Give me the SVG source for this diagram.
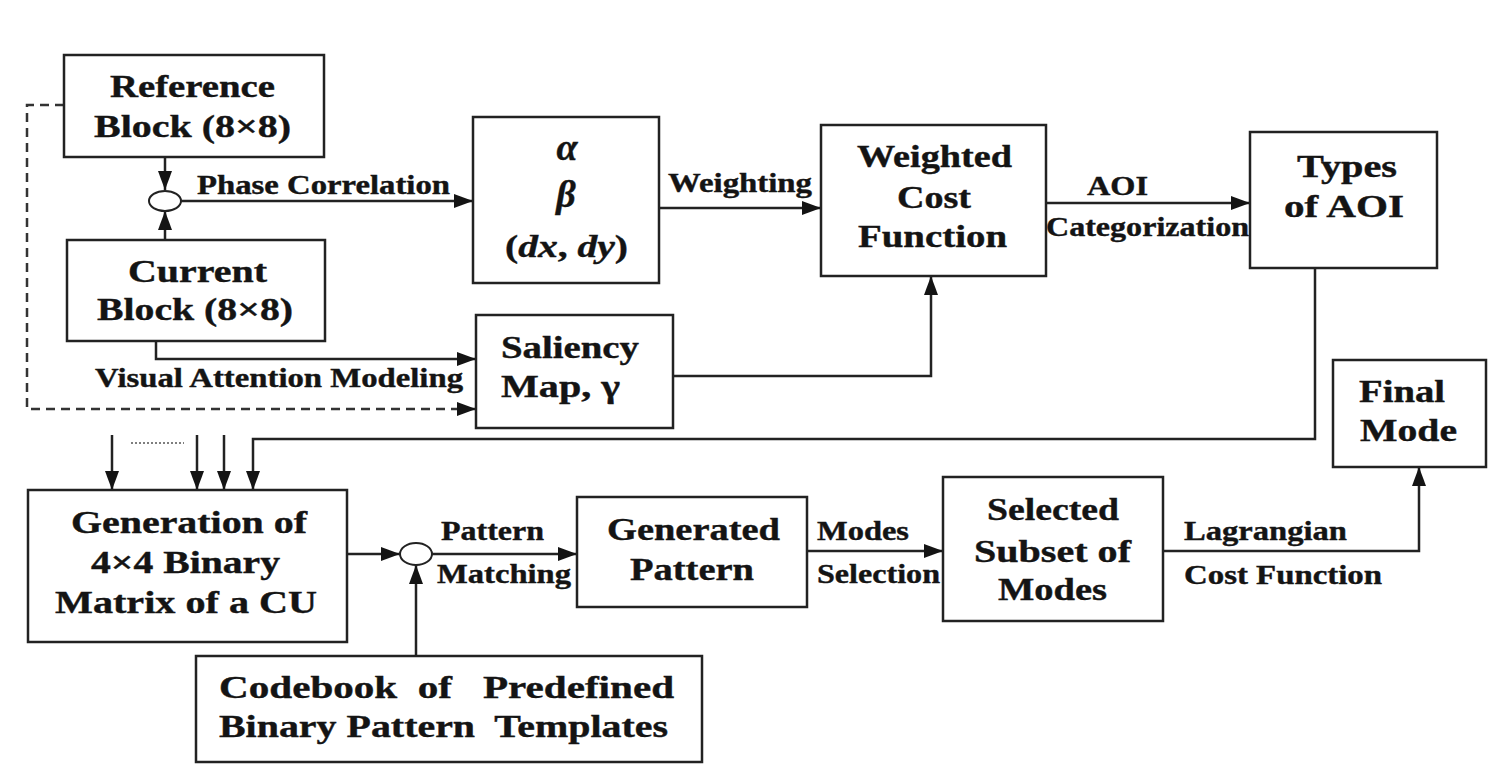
<svg xmlns="http://www.w3.org/2000/svg" width="1488" height="764" viewBox="0 0 1488 764">
  <style>
    .box { fill: #ffffff; stroke: #222; stroke-width: 2.5; }
    .wire { fill: none; stroke: #222; stroke-width: 2.5; }
    .dash { fill: none; stroke: #333; stroke-width: 2.5; stroke-dasharray: 9 6; }
    text { font-family: "Liberation Serif", "Times New Roman", serif; font-weight: bold; fill: #141414; stroke: #141414; stroke-width: 0.4; }
    .big { font-size: 32px; }
    .lbl { font-size: 27px; }
    .it { font-style: italic; }
    .greek { font-size: 38px; font-style: italic; }
  </style>
  <defs>
    <marker id="arrow" markerUnits="userSpaceOnUse" markerWidth="20" markerHeight="14" refX="19" refY="7" orient="auto">
      <path d="M0,0 L19,7 L0,14 z" fill="#141414"/>
    </marker>
  </defs>
  <rect width="1488" height="764" fill="#ffffff"/>

  <!-- connectors -->
  <g id="connectors">
    <path class="wire" d="M165,157 V190" marker-end="url(#arrow)"/>
    <path class="wire" d="M165,240 V211" marker-end="url(#arrow)"/>
    <path class="wire" d="M181,201 H473" marker-end="url(#arrow)"/>
    <path class="wire" d="M659,208 H821" marker-end="url(#arrow)"/>
    <path class="wire" d="M1046,203 H1250" marker-end="url(#arrow)"/>
    <path class="wire" d="M156,341 V359 H476" marker-end="url(#arrow)"/>
    <path class="dash" d="M64,105 H27 V409 H476" marker-end="url(#arrow)"/>
    <path class="wire" d="M673,376 H931 V276" marker-end="url(#arrow)"/>
    <path class="wire" d="M1315,268 V439 H253 V490" marker-end="url(#arrow)"/>
    <path class="wire" d="M112,435 V490" marker-end="url(#arrow)"/>
    <path class="wire" d="M197,435 V490" marker-end="url(#arrow)"/>
    <path class="wire" d="M224,435 V490" marker-end="url(#arrow)"/>
    <path d="M131,443 H184" fill="none" stroke="#555" stroke-width="1.5" stroke-dasharray="2 2"/>
    <path class="wire" d="M347,554 H400" marker-end="url(#arrow)"/>
    <path class="wire" d="M416,656 V565" marker-end="url(#arrow)"/>
    <path class="wire" d="M432,554 H577" marker-end="url(#arrow)"/>
    <path class="wire" d="M807,551 H943" marker-end="url(#arrow)"/>
    <path class="wire" d="M1163,551 H1419 V467" marker-end="url(#arrow)"/>
    <ellipse cx="165" cy="201" rx="16" ry="10" fill="#fff" stroke="#222" stroke-width="2"/>
    <ellipse cx="416" cy="554" rx="16" ry="11" fill="#fff" stroke="#222" stroke-width="2"/>

    <text class="lbl" x="197" y="194" textLength="253" lengthAdjust="spacingAndGlyphs">Phase Correlation</text>
    <text class="lbl" x="95" y="387" textLength="368" lengthAdjust="spacingAndGlyphs">Visual Attention Modeling</text>
    <text class="lbl" x="668" y="192" textLength="144" lengthAdjust="spacingAndGlyphs">Weighting</text>
    <text class="lbl" x="1087" y="195" textLength="61" lengthAdjust="spacingAndGlyphs">AOI</text>
    <text class="lbl" x="1046" y="236" textLength="203" lengthAdjust="spacingAndGlyphs">Categorization</text>
    <text class="lbl" x="441" y="540" textLength="103" lengthAdjust="spacingAndGlyphs">Pattern</text>
    <text class="lbl" x="437" y="583" textLength="134" lengthAdjust="spacingAndGlyphs">Matching</text>
    <text class="lbl" x="817" y="540" textLength="92" lengthAdjust="spacingAndGlyphs">Modes</text>
    <text class="lbl" x="817" y="583" textLength="123" lengthAdjust="spacingAndGlyphs">Selection</text>
    <text class="lbl" x="1184" y="540" textLength="163" lengthAdjust="spacingAndGlyphs">Lagrangian</text>
    <text class="lbl" x="1184" y="584" textLength="198" lengthAdjust="spacingAndGlyphs">Cost Function</text>
  </g>

  <g id="reference-block">
    <rect class="box" x="64" y="55" width="260" height="102"/>
    <text class="big" x="110" y="97" textLength="165" lengthAdjust="spacingAndGlyphs">Reference</text>
    <text class="big" x="94" y="137" textLength="197" lengthAdjust="spacingAndGlyphs">Block (8×8)</text>
  </g>

  <g id="current-block">
    <rect class="box" x="67" y="240" width="258" height="101"/>
    <text class="big" x="128" y="282" textLength="139" lengthAdjust="spacingAndGlyphs">Current</text>
    <text class="big" x="97" y="320" textLength="196" lengthAdjust="spacingAndGlyphs">Block (8×8)</text>
  </g>

  <g id="motion-params">
    <rect class="box" x="473" y="117" width="186" height="166"/>
    <text class="greek" x="567" y="160" text-anchor="middle">α</text>
    <text class="greek" x="566" y="207" text-anchor="middle">β</text>
    <text class="big" x="505" y="257" textLength="123" lengthAdjust="spacingAndGlyphs">(<tspan class="it">dx</tspan>, <tspan class="it">dy</tspan>)</text>
  </g>

  <g id="saliency-map">
    <rect class="box" x="476" y="315" width="197" height="113"/>
    <text class="big" x="501" y="358" textLength="138" lengthAdjust="spacingAndGlyphs">Saliency</text>
    <text class="big" x="501" y="397" textLength="119" lengthAdjust="spacingAndGlyphs">Map, γ</text>
  </g>

  <g id="weighted-cost">
    <rect class="box" x="821" y="125" width="225" height="151"/>
    <text class="big" x="857" y="167" textLength="155" lengthAdjust="spacingAndGlyphs">Weighted</text>
    <text class="big" x="897" y="208" textLength="74" lengthAdjust="spacingAndGlyphs">Cost</text>
    <text class="big" x="858" y="247" textLength="149" lengthAdjust="spacingAndGlyphs">Function</text>
  </g>

  <g id="aoi-types">
    <rect class="box" x="1250" y="132" width="187" height="136"/>
    <text class="big" x="1297" y="177" textLength="100" lengthAdjust="spacingAndGlyphs">Types</text>
    <text class="big" x="1284" y="217" textLength="120" lengthAdjust="spacingAndGlyphs">of AOI</text>
  </g>

  <g id="final-mode">
    <rect class="box" x="1333" y="360" width="153" height="107"/>
    <text class="big" x="1359" y="402" textLength="86" lengthAdjust="spacingAndGlyphs">Final</text>
    <text class="big" x="1360" y="441" textLength="97" lengthAdjust="spacingAndGlyphs">Mode</text>
  </g>

  <g id="binary-matrix">
    <rect class="box" x="28" y="490" width="319" height="152"/>
    <text class="big" x="71" y="533" textLength="236" lengthAdjust="spacingAndGlyphs">Generation of</text>
    <text class="big" x="91" y="573" textLength="189" lengthAdjust="spacingAndGlyphs">4×4 Binary</text>
    <text class="big" x="55" y="613" textLength="262" lengthAdjust="spacingAndGlyphs">Matrix of a CU</text>
  </g>

  <g id="codebook">
    <rect class="box" x="196" y="656" width="506" height="106"/>
    <text class="big" x="219" y="698" textLength="455" lengthAdjust="spacingAndGlyphs" xml:space="preserve">Codebook  of   Predefined</text>
    <text class="big" x="219" y="737" textLength="449" lengthAdjust="spacingAndGlyphs" xml:space="preserve">Binary Pattern  Templates</text>
  </g>

  <g id="generated-pattern">
    <rect class="box" x="577" y="497" width="230" height="110"/>
    <text class="big" x="607" y="540" textLength="173" lengthAdjust="spacingAndGlyphs">Generated</text>
    <text class="big" x="630" y="580" textLength="124" lengthAdjust="spacingAndGlyphs">Pattern</text>
  </g>

  <g id="mode-subset">
    <rect class="box" x="943" y="477" width="220" height="144"/>
    <text class="big" x="987" y="520" textLength="132" lengthAdjust="spacingAndGlyphs">Selected</text>
    <text class="big" x="974" y="562" textLength="157" lengthAdjust="spacingAndGlyphs">Subset of</text>
    <text class="big" x="998" y="600" textLength="109" lengthAdjust="spacingAndGlyphs">Modes</text>
  </g>
</svg>
